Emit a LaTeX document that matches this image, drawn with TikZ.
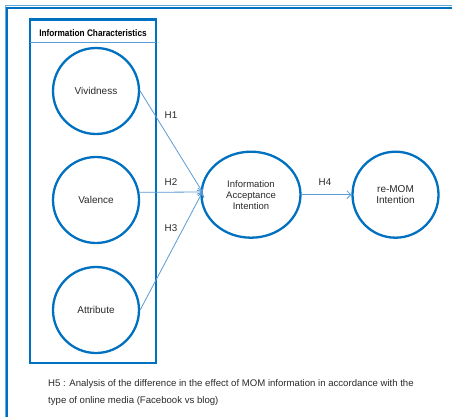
\documentclass[tikz,border=0pt]{standalone}
\usepackage{fontspec}
\setmainfont{Liberation Sans}
\usetikzlibrary{shapes.geometric,arrows.meta}
\definecolor{frameblue}{HTML}{0070C0}
\definecolor{arrowblue}{HTML}{5B9BD5}
\definecolor{txt}{HTML}{2A2A2A}
\tikzset{
  construct/.style={circle,draw=frameblue,line width=2.3pt,minimum size=86pt,inner sep=0pt,
    text=txt,font=\fontsize{10}{11}\selectfont,align=center},
  oval/.style={ellipse,draw=frameblue,line width=2.3pt,minimum width=99pt,minimum height=86pt,
    inner sep=0pt,text=txt,font=\fontsize{9.5}{11}\selectfont,align=center},
  hyp/.style={draw=arrowblue,line width=0.8pt,-{Straight Barb[length=4pt,width=8pt]}},
  hlabel/.style={text=txt,font=\fontsize{9.8}{10}\selectfont,inner sep=0pt}
}
\begin{document}
\begin{tikzpicture}[x=1pt,y=-1pt]
\clip (0,0) rectangle (452,417);
\fill[white] (0,0) rectangle (452,417);
% outer frame (top and left edges visible)
\draw[frameblue!60,line width=1pt] (5.5,430) -- (5.5,6) -- (470,6);
\draw[frameblue,line width=2.2pt] (7.3,430) -- (7.3,7.8) -- (470,7.8);
% group box
\draw[frameblue,line width=2.5pt] (30,19.5) rectangle (156,363);
\draw[arrowblue,line width=0.8pt] (30,42) -- (156,42);
\node[font=\bfseries\fontsize{9.5}{10}\selectfont,text=black,inner sep=0pt] (title) at (93,33)
  {\scalebox{0.87}[1]{Information Characteristics}};
% constructs
\node[construct] (viv) at (96,91) {Vividness};
\node[construct] (val) at (96,200) {Valence};
\node[construct] (att) at (96,310) {Attribute};
\node[oval] (acc) at (251,194.7) {Information\\Acceptance\\Intention};
\node[construct] (mom) at (395.5,194.7) {re-MOM\\Intention};
\coordinate (tip) at (202.5,192);
% hypotheses
\draw[hyp] (viv.east) -- (tip);
\draw[hyp] (val.10.7) -- (tip);
\draw[hyp] (att.east) -- (tip);
\draw[hyp] (acc.east) -- (mom.west);
\node[hlabel] (h1) at (171,115) {H1};
\node[hlabel] (h2) at (171,182.5) {H2};
\node[hlabel] (h3) at (171,228.5) {H3};
\node[hlabel] (h4) at (325,182) {H4};
% footnote
\node[anchor=north west,inner sep=0pt,align=left,text=txt,font=\fontsize{9.6}{17}\selectfont] (h5) at (48,379.5)
  {H5 : Analysis of the difference in the effect of MOM information in accordance with the\\
   type of online media (Facebook vs blog)};
\end{tikzpicture}
\end{document}
